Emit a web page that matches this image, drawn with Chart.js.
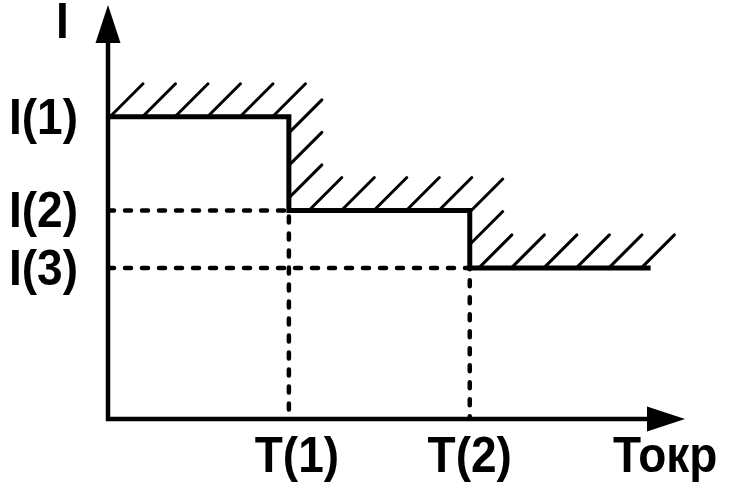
<!DOCTYPE html>
<html>
<head>
<meta charset="utf-8">
<script src="https://cdn.jsdelivr.net/npm/chart.js@4"></script>
<style>
    body { margin: 0; background: #fff; }
    #chart { display: block; }
</style>
</head>
<body>
<canvas id="chart" width="731" height="492"></canvas>
<script>
// Data (arbitrary units)
const tBounds = [0, 1, 2, 3];          // start, T(1), T(2), end of last step
const tLabels = ['T(1)', 'T(2)'];
const iLevels = [2, 1.38, 1];          // I(1), I(2), I(3)
const iLabels = ['I(1)', 'I(2)', 'I(3)'];
const xTitle = 'Токр';
const yTitle = 'I';
const xMax = 3.19;
const yMax = 2.74;

const FONT = 'bold 46px "Liberation Sans", Arial, sans-serif';
const TEXT_STRETCH = 1.08; // reference glyphs are a bit taller than Arial

// Step line: each level holds until the next boundary
const stepData = iLevels.map((v, i) => ({ x: tBounds[i], y: v }));
stepData.push({ x: tBounds[tBounds.length - 1], y: iLevels[iLevels.length - 1] });

// Dashed guides: from the I axis to the corner, then down to the T axis
const guide = (lvl, t) => [
    { x: 0, y: lvl },
    { x: t, y: lvl },
    { x: t, y: 0 }
];

// text with a small vertical stretch, baseline stays put
function drawText(ctx, str, x, y) {
    ctx.save();
    ctx.translate(x, y);
    ctx.scale(1, TEXT_STRETCH);
    ctx.fillText(str, 0, 0);
    ctx.restore();
}

// Axes with arrow heads
const axesPlugin = {
    id: 'axes',
    beforeDatasetsDraw(chart) {
        const { ctx, chartArea, scales } = chart;
        const x0 = scales.x.getPixelForValue(0);
        const y0 = scales.y.getPixelForValue(0);
        const len = 38, half = 12.5;
        ctx.save();
        ctx.strokeStyle = '#000';
        ctx.fillStyle = '#000';
        ctx.lineWidth = 4.5;
        ctx.lineJoin = 'miter';
        ctx.beginPath();
        ctx.moveTo(x0, chartArea.top + len);
        ctx.lineTo(x0, y0);
        ctx.lineTo(chartArea.right - len, y0);
        ctx.stroke();
        // y arrow
        ctx.beginPath();
        ctx.moveTo(x0, chartArea.top);
        ctx.lineTo(x0 - half, chartArea.top + len);
        ctx.lineTo(x0 + half, chartArea.top + len);
        ctx.closePath();
        ctx.fill();
        // x arrow
        ctx.beginPath();
        ctx.moveTo(chartArea.right, y0);
        ctx.lineTo(chartArea.right - len, y0 - half);
        ctx.lineTo(chartArea.right - len, y0 + half);
        ctx.closePath();
        ctx.fill();
        ctx.restore();
    }
};

// Hatching above the step line + all the labels
const hatchPlugin = {
    id: 'hatch',
    afterDatasetsDraw(chart) {
        const { ctx, scales } = chart;
        const sx = scales.x, sy = scales.y;

        // corners of the step polyline in pixels
        const pts = [];
        for (let i = 0; i < iLevels.length; i++) {
            pts.push({ x: sx.getPixelForValue(tBounds[i]), y: sy.getPixelForValue(iLevels[i]) });
            pts.push({ x: sx.getPixelForValue(tBounds[i + 1]), y: sy.getPixelForValue(iLevels[i]) });
        }

        const spacing = 32.5, len = 33;
        const sum = p => p.x + p.y;
        const cEnd = sum(pts[pts.length - 1]);

        ctx.save();
        ctx.strokeStyle = '#000';
        ctx.lineWidth = 3;
        ctx.lineCap = 'round';
        for (let c = sum(pts[0]) + 2; c < cEnd; c += spacing) {
            for (let k = 0; k < pts.length - 1; k++) {
                const a = pts[k], b = pts[k + 1];
                const sa = sum(a), sb = sum(b);
                if (c >= sa && c <= sb && sb > sa) {
                    const t = (c - sa) / (sb - sa);
                    const px = a.x + t * (b.x - a.x);
                    const py = a.y + t * (b.y - a.y);
                    ctx.beginPath();
                    ctx.moveTo(px, py);
                    ctx.lineTo(px + len, py - len);
                    ctx.stroke();
                    break;
                }
            }
        }

        // labels
        ctx.fillStyle = '#000';
        ctx.font = FONT;
        ctx.textBaseline = 'alphabetic';

        ctx.textAlign = 'right';
        iLevels.forEach((v, i) => {
            drawText(ctx, iLabels[i], sx.left - 30, sy.getPixelForValue(v) + 17);
        });

        const yBase = sy.getPixelForValue(0) + 53;
        const nudge = [8, 0];
        ctx.textAlign = 'center';
        tLabels.forEach((lbl, i) => {
            drawText(ctx, lbl, sx.getPixelForValue(tBounds[i + 1]) + nudge[i], yBase);
        });

        ctx.textAlign = 'left';
        drawText(ctx, xTitle, sx.right - 72, yBase);
        drawText(ctx, yTitle, sx.left - 52, sy.top + 33);
        ctx.restore();
    }
};

const dashStyle = {
    showLine: true,
    borderColor: '#000',
    borderWidth: 4.5,
    borderDash: [6, 11],
    borderCapStyle: 'round',
    pointRadius: 0,
    order: 1
};

new Chart(document.getElementById('chart'), {
    type: 'scatter',
    data: {
        datasets: [
            {
                data: stepData,
                showLine: true,
                stepped: true,   // horizontal first, then drop
                borderColor: '#000',
                borderWidth: 5,
                borderCapStyle: 'butt',
                borderJoinStyle: 'miter',
                pointRadius: 0,
                order: 0
            },
            Object.assign({ data: guide(iLevels[1], tBounds[1]) }, dashStyle),
            Object.assign({ data: guide(iLevels[2], tBounds[2]) }, dashStyle)
        ]
    },
    options: {
        responsive: false,
        animation: false,
        layout: { padding: { left: 108, right: 46, top: 5, bottom: 73 } },
        plugins: {
            legend: { display: false },
            tooltip: { enabled: false }
        },
        scales: {
            x: { type: 'linear', min: 0, max: xMax, display: false },
            y: { type: 'linear', min: 0, max: yMax, display: false }
        }
    },
    plugins: [axesPlugin, hatchPlugin]
});
</script>
</body>
</html>
